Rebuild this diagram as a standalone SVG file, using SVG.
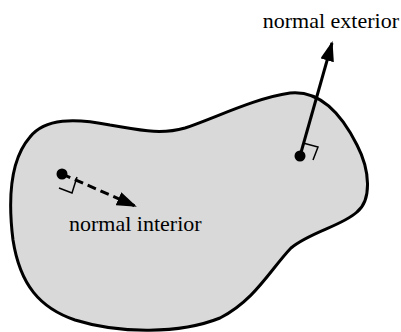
<svg xmlns="http://www.w3.org/2000/svg" width="401" height="332" viewBox="0 0 401 332">
<style>
.blob{fill:#d9d9d9;stroke:#000;stroke-width:3}
.vec{stroke:#000;stroke-width:3;fill:none}
.dash{stroke-dasharray:9,5}
.ra{stroke:#000;stroke-width:1.5;fill:none}
.dot{fill:#000}
.lbl{font-family:"Liberation Serif","Times New Roman",serif;font-size:22px;fill:#000}
</style>
<defs>
<marker id="ah" markerWidth="20" markerHeight="14" refX="18" refY="7" orient="auto" markerUnits="userSpaceOnUse">
<path d="M0,0 L20,7 L0,14 Z" fill="#000"/>
</marker>
</defs>
<g id="region">
<path class="blob" d="M30,137 C45,118 75,118 110,125 C140,130 160,135 185,128 C215,118 255,98 290,93 C320,90 342,115 357,145 C370,170 372,200 357,212 C342,226 310,232 291,248 C270,270 255,300 220,318 C180,334 120,334 75,320 C40,308 20,285 13,240 C8,200 10,160 30,137 Z"/>
</g>
<g id="interior-point">
<circle class="dot" cx="62" cy="174" r="5.5"/>
<polyline class="ra" points="77,177 72,193 59,188"/>
</g>
<g id="exterior-point">
<circle class="dot" cx="300" cy="156" r="5.5"/>
<polyline class="ra" points="303,143 318,147 313,160"/>
</g>
<g id="connectors">
<line class="vec dash" x1="62" y1="174" x2="135" y2="206" marker-end="url(#ah)"/>
<line class="vec" x1="300" y1="156" x2="332" y2="43" marker-end="url(#ah)"/>
</g>
<g id="labels">
<text class="lbl" x="69" y="231">normal interior</text>
<text class="lbl" x="399" y="28" text-anchor="end">normal exterior</text>
</g>
</svg>
